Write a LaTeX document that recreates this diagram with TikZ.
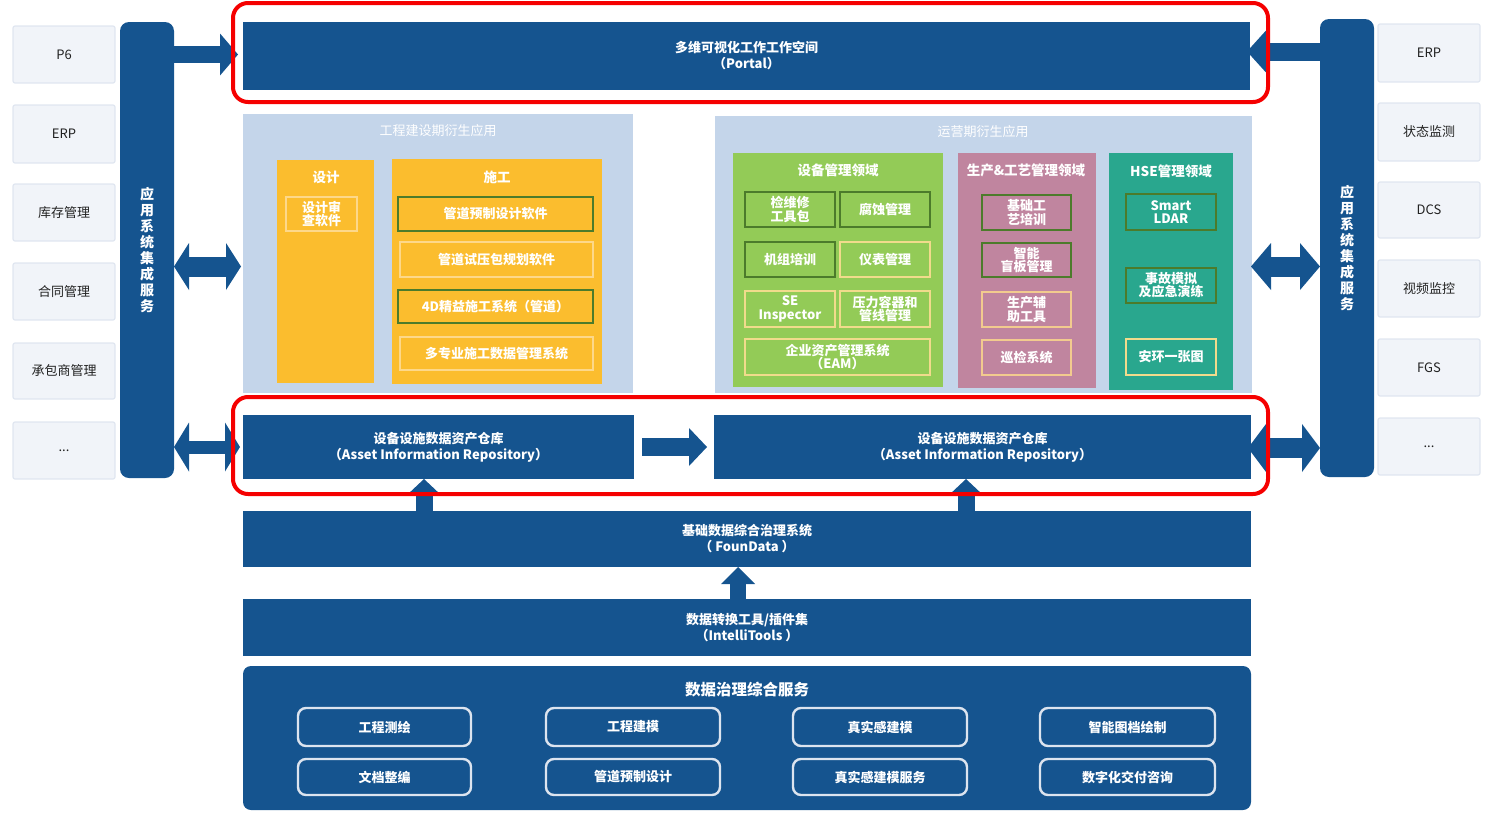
\documentclass[tikz,border=0pt]{standalone}
\usepackage{fontspec}
\setmainfont{Noto Sans CJK SC}
\usetikzlibrary{arrows.meta}
\definecolor{dblue}{HTML}{15548F}
\definecolor{lblue}{HTML}{C4D5EA}
\definecolor{gfill}{HTML}{F1F4F9}
\definecolor{gline}{HTML}{E0E6F0}
\definecolor{gtext}{HTML}{222222}
\definecolor{myyel}{HTML}{FBBD2E}
\definecolor{yline}{HTML}{FDD88A}
\definecolor{mygrn}{HTML}{93CB57}
\definecolor{mypink}{HTML}{C0859F}
\definecolor{myteal}{HTML}{29A78E}
\definecolor{dkline}{HTML}{4C7B2B}
\definecolor{ltline}{HTML}{F1DB8C}
\definecolor{pkline}{HTML}{F2CB8E}
\definecolor{govline}{HTML}{DCE4EF}
\definecolor{redhl}{HTML}{F50000}
\newcommand\bx[7]{\node[#6, anchor=north west, minimum width={(#4)-(#2)}, minimum height={(#5)-(#3)}] (#1) at (#2,#3) {#7};}
\tikzset{
  box/.style={inner sep=0pt, outer sep=0pt, align=center},
  graybox/.style={box, fill=gfill, draw=gline, line width=1.2pt, rounded corners=2pt, text=gtext, font=\fontsize{13}{15}\selectfont},
  bar/.style={box, fill=dblue, rounded corners=9pt, text=white, font=\bfseries\fontsize{14}{15.9}\selectfont},
  dk/.style={box, fill=dblue, text=white, font=\bfseries\fontsize{13}{16}\selectfont},
  area/.style={box, fill=#1},
  atitle/.style={box, text=white, font=\fontsize{13}{15}\selectfont},
  dtitle/.style={box, text=white, font=\bfseries\fontsize{13.5}{15}\selectfont},
  sub/.style={box, draw=#1, line width=2.2pt, text=white, font=\bfseries\fontsize{13}{13.2}\selectfont},
  govsub/.style={box, draw=govline, line width=2.4pt, rounded corners=8pt, text=white, font=\bfseries\fontsize{13}{15}\selectfont},
  hl/.style={box, draw=redhl, line width=4pt, rounded corners=15pt},
  blk/.style={draw=dblue, line width=#1},
}
\begin{document}
\begin{tikzpicture}[x=1pt,y=-1pt]
\useasboundingbox (0,0) rectangle (1500,822);
% left side systems
\bx{lg1}{13}{26}{115}{83}{graybox}{P6}
\bx{lg2}{13}{105}{115}{163}{graybox}{ERP}
\bx{lg3}{13}{184}{115}{241}{graybox}{库存管理}
\bx{lg4}{13}{263}{115}{320}{graybox}{合同管理}
\bx{lg5}{13}{343}{115}{399}{graybox}{承包商管理}
\bx{lg6}{13}{422}{115}{479}{graybox}{...}
% right side systems
\bx{rg1}{1378}{24}{1480}{82}{graybox}{ERP}
\bx{rg2}{1378}{103}{1480}{161}{graybox}{状态监测}
\bx{rg3}{1378}{182}{1480}{238}{graybox}{DCS}
\bx{rg4}{1378}{260}{1480}{317}{graybox}{视频监控}
\bx{rg5}{1378}{339}{1480}{396}{graybox}{FGS}
\bx{rg6}{1378}{418}{1480}{475}{graybox}{...}
% integration bars
\bx{lbar}{120}{22}{174}{478}{bar}{应\\用\\系\\统\\集\\成\\服\\务}
\bx{rbar}{1320}{19}{1374}{477}{bar}{应\\用\\系\\统\\集\\成\\服\\务}
% portal
\bx{portal}{243}{22}{1250}{90}{dk}{多维可视化工作工作空间\\（Portal）}
% construction-phase applications
\bx{lapp}{243}{114}{633}{393}{area=lblue}{}
\node[atitle] (lappT) at (438,131) {工程建设期衍生应用};
\bx{sj}{277}{160}{374}{383}{area=myyel}{}
\node[dtitle] (sjT) at (326,177) {设计};
\bx{sj1}{286}{197}{357}{231}{sub=yline}{设计审\\查软件}
\bx{sg}{392}{159}{602}{384}{area=myyel}{}
\node[dtitle] (sgT) at (497,177) {施工};
\bx{sg1}{398}{197}{593}{231}{sub=dkline}{管道预制设计软件}
\bx{sg2}{400}{242}{593}{277}{sub=yline}{管道试压包规划软件}
\bx{sg3}{398}{290}{593}{323}{sub=dkline}{4D精益施工系统（管道）}
\bx{sg4}{400}{337}{593}{370}{sub=yline}{多专业施工数据管理系统}
% operation-phase applications
\bx{rapp}{715}{116}{1252}{393}{area=lblue}{}
\node[atitle] (rappT) at (983,132) {运营期衍生应用};
\bx{ga}{733}{153}{943}{387}{area=mygrn}{}
\node[dtitle] (gaT) at (838,170) {设备管理领域};
\bx{g1}{745}{192}{835}{227}{sub=dkline}{检维修\\工具包}
\bx{g2}{840}{192}{930}{227}{sub=dkline}{腐蚀管理}
\bx{g3}{745}{242}{835}{277}{sub=dkline}{机组培训}
\bx{g4}{840}{242}{930}{277}{sub=ltline}{仪表管理}
\bx{g5}{745}{291}{835}{327}{sub=ltline}{SE\\Inspector}
\bx{g6}{840}{291}{930}{327}{sub=ltline}{压力容器和\\管线管理}
\bx{g7}{745}{339}{930}{375}{sub=ltline}{企业资产管理系统\\（EAM）}
\bx{pa}{958}{153}{1096}{388}{area=mypink}{}
\node[dtitle] (paT) at (1026,170) {生产\&工艺管理领域};
\bx{p1}{982}{195}{1071}{230}{sub=dkline}{基础工\\艺培训}
\bx{p2}{982}{243}{1071}{277}{sub=dkline}{智能\\盲板管理}
\bx{p3}{982}{292}{1071}{327}{sub=pkline}{生产辅\\助工具}
\bx{p4}{982}{340}{1071}{375}{sub=pkline}{巡检系统}
\bx{ta}{1109}{153}{1233}{390}{area=myteal}{}
\node[dtitle] (taT) at (1171,171) {HSE管理领域};
\bx{t1}{1126}{194}{1216}{230}{sub=dkline}{Smart\\LDAR}
\bx{t2}{1126}{268}{1216}{303}{sub=dkline}{事故模拟\\及应急演练}
\bx{t3}{1126}{339}{1216}{375}{sub=ltline}{安环一张图}
% repositories and data layers
\bx{air1}{243}{415}{634}{479}{dk}{设备设施数据资产仓库\\（Asset Information Repository）}
\bx{air2}{714}{415}{1251}{479}{dk}{设备设施数据资产仓库\\（Asset Information Repository）}
\bx{fd}{243}{511}{1251}{567}{dk}{基础数据综合治理系统\\（ FounData ）}
\bx{it}{243}{599}{1251}{656}{dk}{数据转换工具/插件集\\（IntelliTools ）}
\bx{gov}{243}{666}{1251}{810}{area=dblue, rounded corners=8pt}{}
\node[box, text=white, font=\bfseries\fontsize{15.5}{17}\selectfont] (govT) at (747,690) {数据治理综合服务};
\bx{s1}{298}{708}{471}{746}{govsub}{工程测绘}
\bx{s2}{546}{708}{720}{746}{govsub}{工程建模}
\bx{s3}{793}{708}{967}{746}{govsub}{真实感建模}
\bx{s4}{1040}{708}{1215}{746}{govsub}{智能图档绘制}
\bx{s5}{298}{759}{471}{795}{govsub}{文档整编}
\bx{s6}{546}{759}{720}{795}{govsub}{管道预制设计}
\bx{s7}{793}{759}{967}{795}{govsub}{真实感建模服务}
\bx{s8}{1040}{759}{1215}{795}{govsub}{数字化交付咨询}
% helper coordinates for arrow lines
\coordinate (Y1) at (0,54.5);
\coordinate (Y2) at (0,51.5);
\coordinate (Y3) at (0,266.5);
\coordinate (Y4) at (0,447);
\coordinate (Y6) at (0,448);
\coordinate (X8) at (424,0);
\coordinate (X9) at (966,0);
\coordinate (X10) at (738,0);
% block arrows
\draw[blk=17pt, -{Triangle[width=42pt,length=18pt,line width=0pt]}, shorten >=5pt] (lbar.east |- Y1) -- (portal.west |- Y1);
\draw[blk=18pt, -{Triangle[width=42pt,length=19pt,line width=0pt]}, shorten >=-3pt] (rbar.west |- Y2) -- (portal.east |- Y2);
\draw[blk=20pt, {Triangle[width=47pt,length=15pt,line width=0pt]}-{Triangle[width=47pt,length=15pt,line width=0pt]}, shorten >=2pt] (lbar.east |- Y3) -- (lapp.west |- Y3);
\draw[blk=13pt, {Triangle[width=49pt,length=15pt,line width=0pt]}-{Triangle[width=49pt,length=15pt,line width=0pt]}, shorten >=3pt] (lbar.east |- Y4) -- (air1.west |- Y4);
\draw[blk=20pt, {Triangle[width=47pt,length=20pt,line width=0pt]}-{Triangle[width=47pt,length=20pt,line width=0pt]}, shorten <=-1pt] (rapp.east |- Y3) -- (rbar.west |- Y3);
\draw[blk=20pt, {Triangle[width=48pt,length=18pt,line width=0pt]}-{Triangle[width=48pt,length=18pt,line width=0pt]}, shorten <=-3pt] (air2.east |- Y6) -- (rbar.west |- Y6);
\draw[blk=18pt, -{Triangle[width=38pt,length=18pt,line width=0pt]}, shorten <=8pt, shorten >=7pt] (air1.east |- Y4) -- (air2.west |- Y4);
\draw[blk=17pt, -{Triangle[width=34pt,length=16pt,line width=0pt]}] (fd.north -| X8) -- (air1.south -| X8);
\draw[blk=17pt, -{Triangle[width=34pt,length=16pt,line width=0pt]}] (fd.north -| X9) -- (air2.south -| X9);
\draw[blk=16pt, -{Triangle[width=34pt,length=17pt,line width=0pt]}] (it.north -| X10) -- (fd.south -| X10);
% red highlight frames
\bx{hl1}{233}{3}{1268}{102}{hl}{}
\bx{hl2}{233}{397}{1268}{494}{hl}{}
\end{tikzpicture}
\end{document}
